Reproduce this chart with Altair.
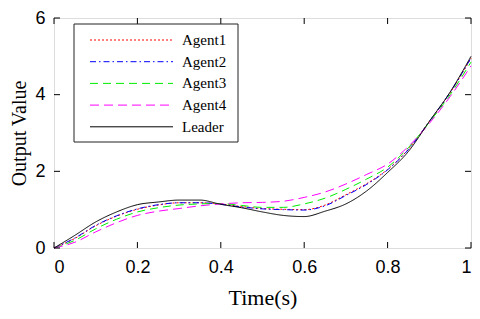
import altair as alt
import pandas as pd

t = [0.0, 0.05, 0.1, 0.15, 0.2, 0.25, 0.3, 0.35, 0.4, 0.45, 0.5,
     0.55, 0.6, 0.65, 0.7, 0.75, 0.8, 0.85, 0.9, 0.95, 1.0]
agent1 = [0.0, 0.25, 0.58, 0.83, 1.01, 1.12, 1.18, 1.18, 1.15, 1.08, 1.03,
          1.01, 1.0, 1.12, 1.39, 1.68, 2.05, 2.58, 3.3, 4.05, 4.95]
agent2 = [0.0, 0.26, 0.59, 0.84, 1.02, 1.13, 1.18, 1.18, 1.14, 1.07, 1.02,
          1.0, 0.99, 1.1, 1.37, 1.66, 2.04, 2.57, 3.3, 4.06, 4.96]
agent3 = [0.0, 0.2, 0.5, 0.75, 0.94, 1.05, 1.12, 1.15, 1.16, 1.11, 1.06,
          1.06, 1.15, 1.3, 1.53, 1.8, 2.11, 2.62, 3.28, 4.0, 4.85]
agent4 = [0.0, 0.15, 0.42, 0.66, 0.85, 0.96, 1.03, 1.1, 1.15, 1.18, 1.19,
          1.22, 1.32, 1.46, 1.67, 1.92, 2.19, 2.65, 3.25, 3.95, 4.75]
leader = [0.0, 0.33, 0.68, 0.94, 1.13, 1.2, 1.25, 1.25, 1.14, 1.05, 0.94,
          0.85, 0.82, 0.96, 1.15, 1.49, 1.97, 2.52, 3.3, 4.07, 5.0]

names = ["Agent1", "Agent2", "Agent3", "Agent4", "Leader"]
colors = ["#ff0000", "#0000ff", "#00ee00", "#ff00ff", "#000000"]
dashes = [[2, 2], [6, 3, 1.5, 3], [8, 5], [9, 5], [1, 0]]
series_values = [agent1, agent2, agent3, agent4, leader]

x_ticks = [0, 0.2, 0.4, 0.6, 0.8, 1.0]
y_ticks = [0, 2, 4, 6]

W, H = 417, 230

rows = []
for n, vals in zip(names, series_values):
    for ti, v in zip(t, vals):
        rows.append({"t": ti, "value": v, "series": n})
df = pd.DataFrame(rows)

xscale = alt.Scale(domain=[0, 1], nice=False, zero=False)
yscale = alt.Scale(domain=[0, 6], nice=False)

lines = alt.Chart(df).mark_line(strokeWidth=1, interpolate="monotone").encode(
    x=alt.X("t:Q", scale=xscale,
            axis=alt.Axis(title="Time(s)", values=x_ticks, format="~g",
                          ticks=False, domain=False, grid=False,
                          labelFont="Liberation Sans", labelFontSize=18,
                          labelColor="#000", labelPadding=10,
                          titleFont="Liberation Serif", titleFontSize=22,
                          titleFontWeight="normal", titleColor="#000",
                          titlePadding=11)),
    y=alt.Y("value:Q", scale=yscale,
            axis=alt.Axis(title="Output Value", values=y_ticks,
                          ticks=False, domain=False, grid=False,
                          labelFont="Liberation Sans", labelFontSize=18,
                          labelColor="#000", labelPadding=9,
                          titleFont="Liberation Serif", titleFontSize=20,
                          titleFontWeight="normal", titleColor="#000",
                          titlePadding=5)),
    color=alt.Color("series:N", scale=alt.Scale(domain=names, range=colors), legend=None),
    strokeDash=alt.StrokeDash("series:N", scale=alt.Scale(domain=names, range=dashes), legend=None),
    order=alt.Order("t:Q"),
)

xt = pd.DataFrame({"t": x_ticks})
yt = pd.DataFrame({"value": y_ticks})
tl = 6
ticks = [
    alt.Chart(xt).mark_rule(color="#000", strokeWidth=1).encode(
        x=alt.X("t:Q", scale=xscale), y=alt.value(H), y2=alt.value(H - tl)),
    alt.Chart(xt).mark_rule(color="#000", strokeWidth=1).encode(
        x=alt.X("t:Q", scale=xscale), y=alt.value(0), y2=alt.value(tl)),
    alt.Chart(yt).mark_rule(color="#000", strokeWidth=1).encode(
        y=alt.Y("value:Q", scale=yscale), x=alt.value(0), x2=alt.value(tl)),
    alt.Chart(yt).mark_rule(color="#000", strokeWidth=1).encode(
        y=alt.Y("value:Q", scale=yscale), x=alt.value(W), x2=alt.value(W - tl)),
]

legend_layers = [
    alt.Chart(pd.DataFrame({"a": [0]})).mark_rect(fill="white", stroke="#222", strokeWidth=1).encode(
        x=alt.value(20), x2=alt.value(184), y=alt.value(6), y2=alt.value(124))
]
for i, (n, c, d) in enumerate(zip(names, colors, dashes)):
    yy = 22 + i * 21.7
    one = pd.DataFrame({"series": [n]})
    legend_layers.append(
        alt.Chart(one).mark_rule(color=c, strokeDash=d, strokeWidth=1).encode(
            x=alt.value(36), x2=alt.value(119), y=alt.value(yy)))
    legend_layers.append(
        alt.Chart(one).mark_text(align="left", baseline="middle", font="Liberation Serif",
                                 fontSize=15, color="#000").encode(
            x=alt.value(128), y=alt.value(yy), text="series:N"))

chart = alt.layer(lines, *ticks, *legend_layers).properties(
    width=W, height=H,
    autosize=alt.AutoSizeParams(type="none"),
    padding={"left": 46, "top": 10, "right": 1, "bottom": 63},
).configure_view(stroke="#000", strokeWidth=1).configure(background="white")

chart.save("out.html", embed_options={"renderer": "svg", "actions": False})
